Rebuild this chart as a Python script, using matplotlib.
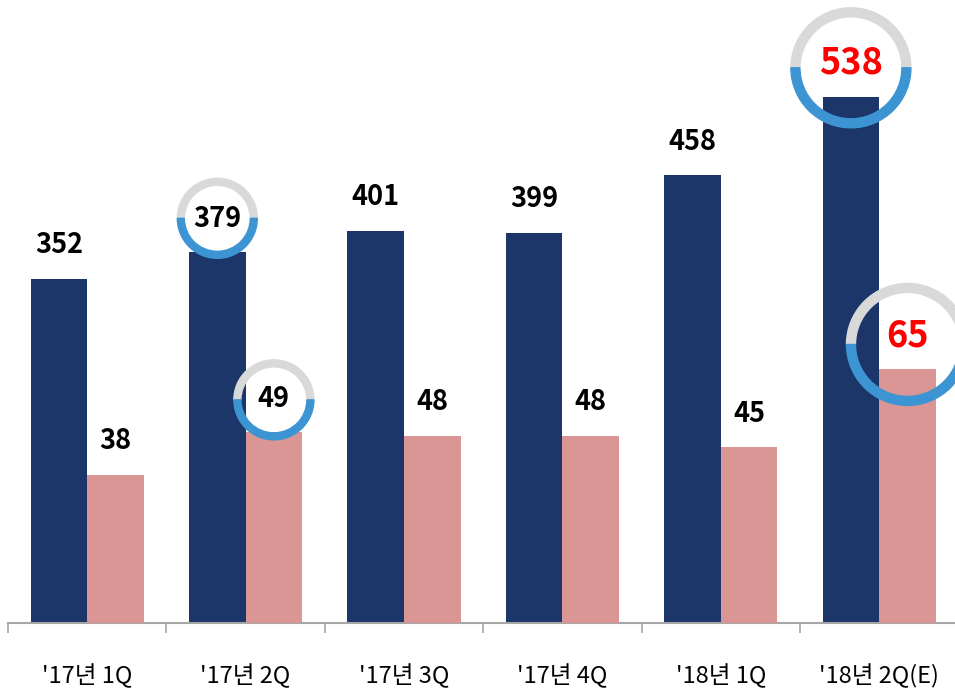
import matplotlib.pyplot as plt
import matplotlib.transforms as mtransforms
from matplotlib.patches import Wedge

plt.rcParams['font.family'] = ['Noto Sans CJK KR', 'DejaVu Sans']

## data
categories = ["'17년 1Q", "'17년 2Q", "'17년 3Q", "'17년 4Q", "'18년 1Q", "'18년 2Q(E)"]
navyVals = [352, 379, 401, 399, 458, 538]
pinkVals = [38, 49, 48, 48, 45, 65]
redLabels = [("navy", 5), ("pink", 5)]

navyColor = '#1c3669'
pinkColor = '#da9694'
ringBlue = '#3d94d2'
ringGray = '#d9d9d9'

fig = plt.figure(figsize=(9.55, 6.89), dpi=100)
ax = fig.add_axes([8 / 955, 66 / 689, 950.4 / 955, 623 / 689])
ax2 = ax.twinx()

x = list(range(len(categories)))
w = 0.357
ax.bar([i - w / 2 for i in x], navyVals, width=w, color=navyColor, zorder=2)
ax2.bar([i + w / 2 for i in x], pinkVals, width=w, color=pinkColor, zorder=2)

ax.set_xlim(-0.5, len(categories) - 0.5)
ax.set_ylim(0, 637)
ax2.set_ylim(0, 159.7)

for a in (ax, ax2):
    a.set_yticks([])
    for s in ['top', 'right', 'left']:
        a.spines[s].set_visible(False)
ax2.spines['bottom'].set_visible(False)
ax.spines['bottom'].set_color('#a6a6a6')
ax.spines['bottom'].set_linewidth(1.5)

ax.set_xticks(x)
ax.set_xticklabels(categories, fontsize=17)
ax.tick_params(axis='x', which='major', length=0, pad=29)
ax.set_xticks([i - 0.5 for i in range(len(categories) + 1)], minor=True)
ax.tick_params(axis='x', which='minor', length=7, width=1.2, color='#a6a6a6', direction='out')


def label(axis, xpos, val, key):
    red = key in redLabels
    axis.annotate(str(val), (xpos, val), xytext=(0, 24), textcoords='offset points',
                  ha='center', va='center', fontweight='bold',
                  fontsize=26 if red else 19.5, color='red' if red else 'black', zorder=5)


def ring(axis, xpos, val, dy, r, rw):
    trans = (fig.dpi_scale_trans +
             mtransforms.ScaledTranslation(0, dy / 100, fig.dpi_scale_trans) +
             mtransforms.ScaledTranslation(xpos, val, axis.transData))
    axis.add_patch(Wedge((0, 0), r / 100, 0, 180, width=rw / 100, transform=trans,
                         color=ringGray, zorder=4, clip_on=False))
    axis.add_patch(Wedge((0, 0), r / 100, 180, 360, width=rw / 100, transform=trans,
                         color=ringBlue, zorder=4, clip_on=False))


for i in x:
    label(ax, i - w / 2, navyVals[i], ("navy", i))
    label(ax2, i + w / 2, pinkVals[i], ("pink", i))

ring(ax, 1 - w / 2, navyVals[1], 34, 40, 7)
ring(ax2, 1 + w / 2, pinkVals[1], 32, 40, 7)
ring(ax, 5 - w / 2, navyVals[5], 29, 60, 9)
ring(ax2, 5 + w / 2, pinkVals[5], 25, 61, 9)

plt.savefig('out.png', dpi=100)
